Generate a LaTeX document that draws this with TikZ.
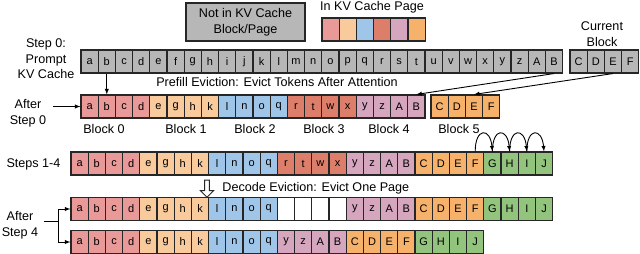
\documentclass[tikz,border=0pt]{standalone}
\usepackage{fontspec}
\setmainfont{Liberation Sans}
\usetikzlibrary{shapes.arrows}
\definecolor{blk0}{HTML}{EA9999}
\definecolor{blk1}{HTML}{F9CB9C}
\definecolor{blk2}{HTML}{9FC5E8}
\definecolor{blk3}{HTML}{DD7E6B}
\definecolor{blk4}{HTML}{D5A6BD}
\definecolor{blk5}{HTML}{F6B26B}
\definecolor{blk6}{HTML}{93C47D}
\definecolor{blk7}{HTML}{FFFFFF}
\definecolor{notkv}{HTML}{B7B7B7}
\tikzset{
  cell/.style={draw=black!85, line width=1.1pt, minimum width=17.2pt, minimum height=23pt,
    inner sep=0pt, font=\fontsize{11}{11}\selectfont},
  lbl/.style={align=center, inner sep=0pt, font=\fontsize{12.6}{15.5}\selectfont},
}
\begin{document}
\begin{tikzpicture}[>=latex, x=1pt, y=-1pt, line width=0.9pt]
\useasboundingbox (0,0) rectangle (640,254);
% legend
\node[draw=black!85, line width=1.1pt, fill=notkv, minimum width=119pt, minimum height=38pt, lbl] (notin) at (245.5,22) {Not in KV Cache\\Block/Page};
\node[lbl] (inkv) at (372,7) {In KV Cache Page};
\foreach \i in {0,...,5}
  \node[cell, fill=blk\i] (lg\i) at (330.6+\i*17.2,29.5) {};
% step 0: prompt
\node[lbl] (stepzero) at (46,59) {Step 0:\\Prompt\\KV Cache};
\foreach \l [count=\i from 0] in {a,b,c,d,e,f,g,h,i,j,k,l,m,n,o,p,q,r,s,t,u,v,w,x,y,z,A,B}
  \node[cell, fill=notkv] (pr\i) at (89.6+\i*17.2,61.5) {\l};
\node[lbl] (curblk) at (602,34) {Current\\Block};
\foreach \l [count=\i from 0] in {C,D,E,F}
  \node[cell, fill=notkv] (cu\i) at (578.6+\i*17.2,61.5) {\l};
\node[lbl] (prefill) at (277,82) {Prefill Eviction: Evict Tokens After Attention};
% after step 0
\node[lbl] (aftzero) at (28,113) {After\\Step 0};
\foreach \l [count=\i from 0] in {a,b,c,d,e,g,h,k,l,n,o,q,r,t,w,x,y,z,A,B}{
  \pgfmathtruncatemacro\blk{int(\i/4)}
  \node[cell, fill=blk\blk] (af\i) at (89.6+\i*17.2,106.5) {\l};
}
\foreach \l [count=\i from 0] in {C,D,E,F}
  \node[cell, fill=blk5] (bf\i) at (439.6+\i*17.2,106.5) {\l};
\foreach \t/\x in {0/104,1/186,2/255,3/324,4/389,5/459}
  \node[lbl] (bl\t) at (\x,129) {Block \t};
\draw[->] (pr1.south) -- (af1.north);
\draw[->] (pr27.south) -- (af19.north);
\draw[->] (cu2.south) -- (bf2.north);
\coordinate (s0) at (53,106.5);
\draw[->] (s0) -- (af0.west);
% steps 1-4
\node[lbl] (steps) at (33.5,164) {Steps 1-4};
\foreach \l [count=\i from 0] in {a,b,c,d,e,g,h,k,l,n,o,q,r,t,w,x,y,z,A,B,C,D,E,F,G,H,I,J}{
  \pgfmathtruncatemacro\blk{int(\i/4)}
  \node[cell, fill=blk\blk] (st\i) at (79.6+\i*17.2,163.5) {\l};
}
\foreach \a/\b in {23/24,24/25,25/26,26/27}
  \draw[->] (st\a.north) to[out=90, in=95, looseness=3.6] (st\b.north);
\node[single arrow, draw=black!85, fill=white, shape border rotate=270, minimum height=17pt,
  minimum width=13pt, single arrow head extend=2.5pt, inner sep=1pt] (down) at (207,187.5) {};
\node[lbl, anchor=west] (decode) at (222,188) {Decode Eviction: Evict One Page};
% after step 4
\node[lbl] (aftfour) at (20,225) {After\\Step 4};
\foreach \l [count=\i from 0] in {a,b,c,d,e,g,h,k,l,n,o,q,{},{},{},{},y,z,A,B,C,D,E,F,G,H,I,J}{
  \pgfmathtruncatemacro\blk{ifthenelse(and(\i>11,\i<16),7,int(\i/4))}
  \node[cell, fill=blk\blk] (ev\i) at (79.6+\i*17.2,209) {\l};
}
\foreach \l [count=\i from 0] in {a,b,c,d,e,g,h,k,l,n,o,q,y,z,A,B,C,D,E,F,G,H,I,J}{
  \pgfmathtruncatemacro\blk{ifthenelse(\i>11,int(\i/4)+1,int(\i/4))}
  \node[cell, fill=blk\blk] (cp\i) at (79.6+\i*17.2,242) {\l};
}
\coordinate (fork) at (44,221);
\coordinate (jn) at (58,221);
\draw (fork) -- (jn);
\draw[->] (jn) |- (ev0.west);
\draw[->] (jn) |- (cp0.west);
\end{tikzpicture}
\end{document}
